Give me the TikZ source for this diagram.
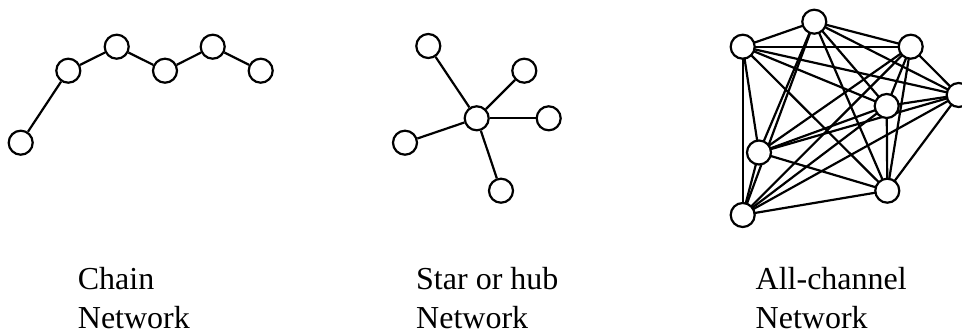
\documentclass[tikz,border=0pt]{standalone}
\usepackage{fontspec}
\setmainfont{Liberation Serif}
\pgfdeclarelayer{edges}
\pgfsetlayers{edges,main}
\begin{document}
\begin{tikzpicture}[x=1pt,y=-1pt,
  vtx/.style={circle,draw,fill=white,line width=2.2pt,minimum size=24pt,inner sep=0pt},
  link/.style={line width=2.2pt},
  caption/.style={anchor=base west,inner sep=0pt,font=\fontsize{32}{40}\selectfont}]
\useasboundingbox (0,0) rectangle (962,333);

% chain network
\node[vtx] (c1) at (20.7,142.7) {};
\node[vtx] (c2) at (68.3,70.7) {};
\node[vtx] (c3) at (116.7,46.7) {};
\node[vtx] (c4) at (165,70.7) {};
\node[vtx] (c5) at (212.7,46.7) {};
\node[vtx] (c6) at (260.7,70.7) {};

% star network
\node[vtx] (hub) at (476.7,118.3) {};
\node[vtx] (s1) at (428.3,46) {};
\node[vtx] (s2) at (524.3,70.7) {};
\node[vtx] (s3) at (548.7,118.3) {};
\node[vtx] (s4) at (405,142.7) {};
\node[vtx] (s5) at (501,190.7) {};

% all-channel network
\node[vtx] (a) at (742.7,46.7) {};
\node[vtx] (b) at (814.3,21.7) {};
\node[vtx] (c) at (910.7,46.7) {};
\node[vtx] (d) at (958.7,95) {};
\node[vtx] (e) at (886.7,106) {};
\node[vtx] (f) at (759,152.5) {};
\node[vtx] (g) at (887.3,190.7) {};
\node[vtx] (h) at (742.7,215) {};

\begin{pgfonlayer}{edges}
  \draw[link] (c1) -- (c2) -- (c3) -- (c4) -- (c5) -- (c6);
  \foreach \s in {s1,s2,s3,s4,s5} \draw[link] (hub) -- (\s);
  \foreach \u/\rest in {a/{b,c,d,e,f,g,h},b/{c,d,e,f,g,h},c/{d,e,f,g,h},
                        d/{e,f,g,h},e/{f,g,h},f/{g,h},g/{h}}
    \foreach \v in \rest \draw[link] (\u.center) -- (\v.center);
\end{pgfonlayer}

% captions
\node[caption] (l1a) at (77.7,289) {Chain};
\node[caption] (l1b) at (77.7,328) {Network};
\node[caption] (l2a) at (416,289) {Star or hub};
\node[caption] (l2b) at (416,328) {Network};
\node[caption] (l3a) at (755.5,289) {All-channel};
\node[caption] (l3b) at (755.5,328) {Network};
\end{tikzpicture}
\end{document}
